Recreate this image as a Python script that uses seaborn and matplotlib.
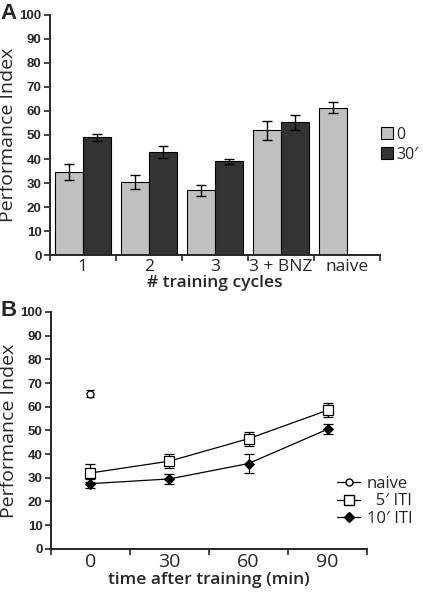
import numpy as np
import pandas as pd
import seaborn as sns
import matplotlib.pyplot as plt
from matplotlib.patches import Patch
from matplotlib.lines import Line2D

# panel A data
groups = ["1", "2", "3", "3 + BNZ", "naive"]
delays = ["0", "30\u2032"]
pi_0 = [34.5, 30.5, 27.0, 52.0, 61.3]
err_0 = [3.3, 3.0, 2.3, 4.0, 2.3]
pi_30 = [49.0, 43.0, 39.0, 55.2, np.nan]
err_30 = [1.5, 2.5, 1.0, 3.2, np.nan]

# panel B data
times = ["0", "30", "60", "90"]
naive_pi = [65.5]
naive_err = [1.5]
iti5_pi = [32.0, 37.0, 46.5, 58.5]
iti5_err = [4.0, 3.0, 3.0, 3.0]
iti10_pi = [27.5, 29.5, 36.0, 50.5]
iti10_err = [2.0, 2.0, 4.0, 2.0]

sns.set_style("ticks")
plt.rcParams["font.family"] = ["Liberation Sans", "DejaVu Sans"]

LIGHT = "#c0c0c0"
DARK = "#333333"
LBL = dict(family="Open Sans")

fig = plt.figure(figsize=(4.23, 5.92), dpi=100)
axA = fig.add_axes([0.118, 0.569, 0.78, 0.406])
axB = fig.add_axes([0.12, 0.073, 0.748, 0.40])


def style_axis(ax, n, xsize):
    for s in ["top", "right"]:
        ax.spines[s].set_visible(False)
    for s in ["left", "bottom"]:
        ax.spines[s].set_linewidth(1.4)
    ax.set_ylim(0, 100)
    ax.set_yticks(range(0, 101, 10))
    ax.tick_params(axis="y", length=4, width=1.2, labelsize=9.5, pad=2)
    for t in ax.get_yticklabels():
        t.set_fontweight("bold")
    ax.set_xlim(-0.5, n - 0.5)
    ax.set_xticks(np.arange(-0.5, n, 1.0), minor=True)
    ax.tick_params(axis="x", which="minor", length=4, width=1.2)
    ax.tick_params(axis="x", which="major", length=0, labelsize=xsize, pad=3)
    for t in ax.get_xticklabels():
        t.set_fontfamily("Open Sans")


# ---- panel A: bars ----
df = pd.DataFrame({
    "group": groups * 2,
    "delay": [delays[0]] * len(groups) + [delays[1]] * len(groups),
    "pi": pi_0 + pi_30,
    "err": err_0 + err_30,
})
sns.barplot(data=df, x="group", y="pi", hue="delay", order=groups, hue_order=delays,
            palette=[LIGHT, DARK], errorbar=None, width=0.85, edgecolor="black",
            linewidth=0.8, ax=axA, legend=False)
# error bars at the bar centres drawn by seaborn
errs = err_0 + err_30
vals = pi_0 + pi_30
for patch, v, e in zip(axA.patches, vals, errs):
    if np.isnan(v):
        continue
    xc = patch.get_x() + patch.get_width() / 2
    axA.errorbar(xc, v, yerr=e, color="black", capsize=3.5, elinewidth=1, capthick=1)

style_axis(axA, len(groups), 12.5)
axA.set_xlabel("# training cycles", fontsize=12.5, fontweight="semibold", labelpad=0, **LBL)
axA.set_ylabel("Performance Index", fontsize=14, labelpad=2, **LBL)
handles = [Patch(facecolor=LIGHT, edgecolor="black", linewidth=0.8),
           Patch(facecolor=DARK, edgecolor="black", linewidth=0.8)]
axA.legend(handles, delays, loc="center left", bbox_to_anchor=(0.995, 0.46), frameon=False,
           borderpad=0, borderaxespad=0.2, handlelength=0.7, handleheight=0.7,
           handletextpad=0.25, labelspacing=0.25, prop=dict(family="Open Sans", size=11.5))

# ---- panel B: lines ----
dB = pd.DataFrame({"time": times * 2,
                   "itiv": ["5"] * 4 + ["10"] * 4,
                   "pi": iti5_pi + iti10_pi})
sns.pointplot(data=dB[dB.itiv == "5"], x="time", y="pi", order=times, color="black",
              marker="s", markersize=7, markerfacecolor="white", markeredgewidth=0.9,
              linewidth=0.9, errorbar=None, ax=axB)
sns.pointplot(data=dB[dB.itiv == "10"], x="time", y="pi", order=times, color="black",
              marker="D", markersize=5, linewidth=0.9, errorbar=None, ax=axB)
pos = np.arange(len(times))
axB.errorbar(pos, iti5_pi, yerr=iti5_err, fmt="none", ecolor="black", capsize=3.5,
             elinewidth=0.9, capthick=0.9, zorder=1)
axB.errorbar(pos, iti10_pi, yerr=iti10_err, fmt="none", ecolor="black", capsize=3.5,
             elinewidth=0.9, capthick=0.9, zorder=1)
axB.errorbar(pos[:1], naive_pi, yerr=naive_err, fmt="o", color="black", mfc="white",
             ms=5, mew=0.9, capsize=3, elinewidth=0.9, capthick=0.9)

style_axis(axB, len(times), 14)
axB.set_xlabel("time after training (min)", fontsize=12.5, fontweight="semibold", labelpad=1, **LBL)
axB.set_ylabel("Performance Index", fontsize=14, labelpad=2, **LBL)
hB = [Line2D([], [], color="black", lw=0.9, marker="o", mfc="white", ms=5),
      Line2D([], [], color="black", lw=0.9, marker="s", mfc="white", ms=7),
      Line2D([], [], color="black", lw=0.9, marker="D", ms=5)]
axB.legend(hB, ["naive", "  5\u2032 ITI", "10\u2032 ITI"], loc="center left",
           bbox_to_anchor=(0.905, 0.2), frameon=False, borderpad=0, borderaxespad=0,
           handlelength=1.4, handletextpad=0.4, labelspacing=0.1,
           prop=dict(family="Open Sans", size=12))

fig.text(0.0, 0.995, "A", fontsize=16, fontweight="bold", va="top")
fig.text(0.0, 0.493, "B", fontsize=16, fontweight="bold", va="top")

fig.savefig("out.png", dpi=100)
